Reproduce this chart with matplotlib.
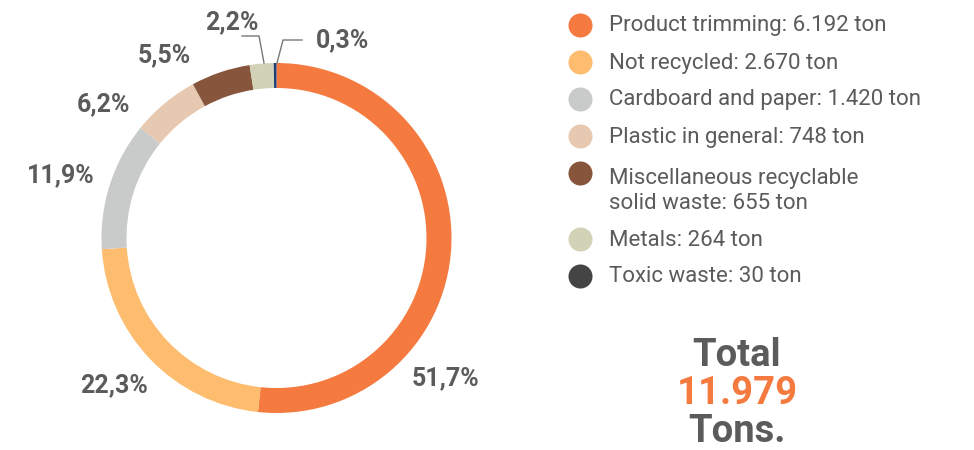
import matplotlib.pyplot as plt

# waste by type
categories = ["Product trimming", "Not recycled", "Cardboard and paper", "Plastic in general",
              "Miscellaneous recyclable\nsolid waste", "Metals", "Toxic waste"]
tons = [6192, 2670, 1420, 748, 655, 264, 30]
ton_labels = ["6.192", "2.670", "1.420", "748", "655", "264", "30"]
pct_labels = ["51,7%", "22,3%", "11,9%", "6,2%", "5,5%", "2,2%", "0,3%"]
total_label = "11.979"

wedge_colors = ["#F47A40", "#FDBC6E", "#C9CACA", "#E6C9B0", "#87553B", "#D2D3B6", "#1E3E73"]
legend_colors = ["#F47A40", "#FDBC6E", "#C9CACA", "#E6C9B0", "#87553B", "#D2D3B6", "#444444"]
text_grey = "#5B5B5B"

W, H = 974, 450
fig = plt.figure(figsize=(W / 100, H / 100), dpi=100)

# pie axes: center (276.5, 238) px, radius 175 px
cx, cy, R = 276.5, 238, 175
ax = fig.add_axes([(cx - R) / W, (H - cy - R) / H, 2 * R / W, 2 * R / H])
ax.pie(tons, colors=wedge_colors, startangle=90, counterclock=False,
       wedgeprops=dict(width=25 / R, linewidth=0))
ax.set_xlim(-1, 1)
ax.set_ylim(-1, 1)
ax.set_aspect("equal")
ax.axis("off")

# overlay in pixel coordinates for text
ov = fig.add_axes([0, 0, 1, 1], zorder=5)
ov.set_xlim(0, W)
ov.set_ylim(H, 0)
ov.axis("off")

lab_font = dict(family=["Roboto", "DejaVu Sans"], fontsize=18, fontweight="bold", color=text_grey)
label_pos = [(446, 378), (114, 385), (61, 175), (104, 104), (164, 55), (232, 22), (343, 40)]
for txt, (x, y) in zip(pct_labels, label_pos):
    ov.text(x, y, txt, ha="center", va="center", **lab_font)

# leader lines for small slices
ov.plot([242, 259, 264], [36, 36, 63], color="#777777", lw=1)
ov.plot([302, 283, 277], [40, 40, 63], color="#777777", lw=1)

# legend
leg_y = [25, 62, 99, 136, 173, 239, 276]
for i, cat in enumerate(categories):
    y = leg_y[i]
    ov.scatter([580], [y], s=300, color=legend_colors[i], linewidths=0)
    ov.text(609, y + 1 + (17 if "\n" in cat else 0), f"{cat}: {ton_labels[i]} ton", ha="left", va="center",
            family=["Roboto", "DejaVu Sans"], fontsize=16, color=text_grey, linespacing=1.3)

# total
tot_font = dict(family=["Roboto", "DejaVu Sans"], fontsize=27.5, fontweight="bold", ha="center", va="center")
ov.text(737, 355, "Total", color=text_grey, **tot_font)
ov.text(737, 393, total_label, color="#F47A40", **tot_font)
ov.text(737, 432, "Tons.", color=text_grey, **tot_font)

fig.savefig("out.png", dpi=100)
